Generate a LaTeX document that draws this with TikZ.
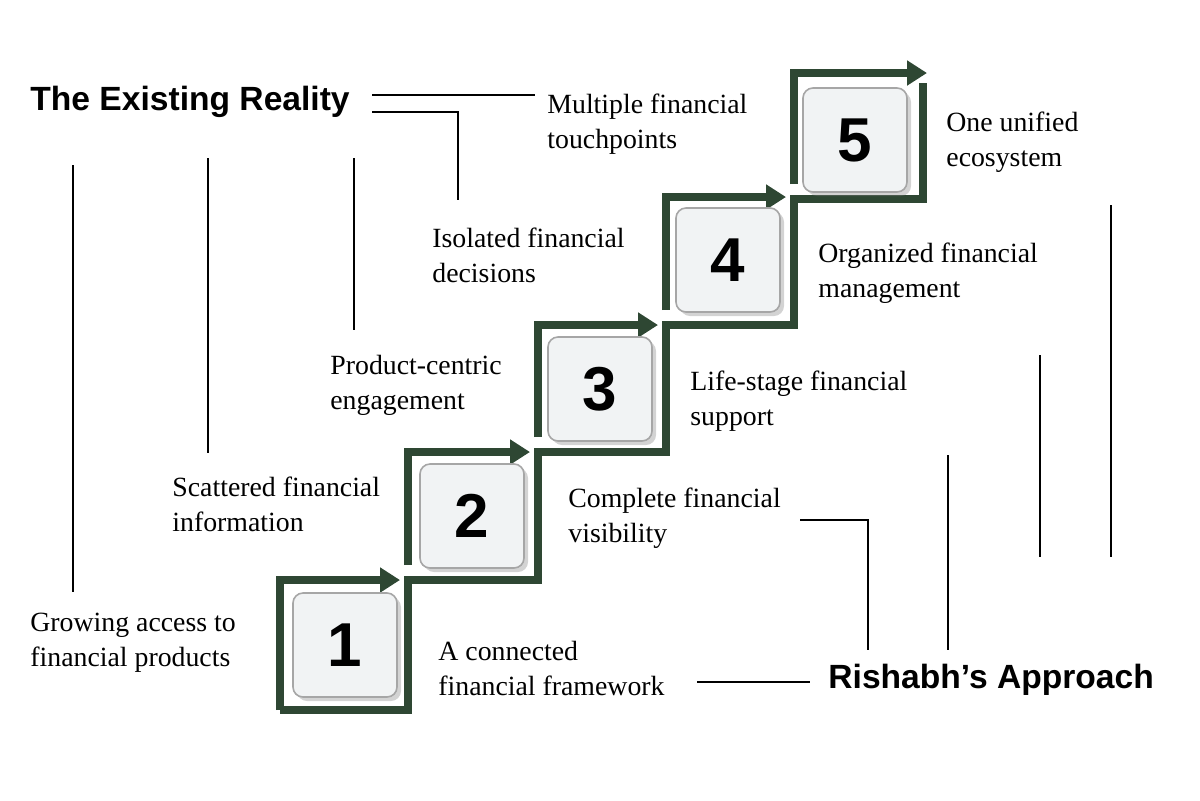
\documentclass[tikz,border=0pt]{standalone}
\usepackage{fontspec}
\setmainfont{Liberation Serif}
\setsansfont{Liberation Sans}
\usetikzlibrary{shadows,arrows.meta}
\definecolor{stairgreen}{HTML}{2E4733}
\definecolor{boxgray}{HTML}{F1F3F4}
\begin{document}
\begin{tikzpicture}
    [x=0.5pt, y=-0.5pt,
     step_style/.style={draw=stairgreen,line width=3.6pt,line join=miter},
     arrow_style/.style={step_style,-{Triangle[length=10pt,width=12pt]}},
     box_style/.style={rounded corners=5pt,draw=gray!70,line width=0.8pt,fill=boxgray,
        minimum size=52pt,inner sep=0pt,font=\sffamily\bfseries\fontsize{31}{31}\selectfont,
        drop shadow={shadow xshift=2pt,shadow yshift=-2pt,opacity=0.35}},
     text_style/.style={align=left,anchor=west,inner sep=1pt,font=\fontsize{13.9}{17.5}\selectfont},
     title_style/.style={anchor=west,inner sep=1pt,font=\sffamily\bfseries\fontsize{16.8}{18}\selectfont},
     line_style/.style={draw=black,line width=0.8pt}]
        \useasboundingbox (0,0) rectangle (1200,800);
        % staircase
        \draw[step_style] (280,710) -- (408,710) -- (408,580) -- (538,580) -- (538,452)
            -- (666,452) -- (666,325) -- (794,325) -- (794,199) -- (923,199) -- (923,83);
        \draw[arrow_style] (280,710) -- (280,580) -- (400,580);
        \draw[arrow_style] (408,565) -- (408,452) -- (530,452);
        \draw[arrow_style] (538,437) -- (538,325) -- (658,325);
        \draw[arrow_style] (666,310) -- (666,197) -- (786,197);
        \draw[arrow_style] (794,184) -- (794,73) -- (927,73);
        % boxes
        \node[box_style] (s1) at (345,645) {1};
        \node[box_style] (s2) at (472,516) {2};
        \node[box_style] (s3) at (600,389) {3};
        \node[box_style] (s4) at (728,260) {4};
        \node[box_style] (s5) at (855,140) {5};
        % titles
        \node[title_style] (reality) at (28,102) {The Existing Reality};
        \node[title_style] (approach) at (826,680) {Rishabh’s Approach};
        % existing reality
        \node[text_style] (r1) at (545,124) {Multiple financial\\touchpoints};
        \node[text_style] (r2) at (430,255) {Isolated financial\\decisions};
        \node[text_style] (r3) at (328,385) {Product-centric\\engagement};
        \node[text_style] (r4) at (170,504) {Scattered financial\\information};
        \node[text_style] (r5) at (28,643) {Growing access to\\financial products};
        % approach
        \node[text_style] (a5) at (944,142) {One unified\\ecosystem};
        \node[text_style] (a4) at (816,273) {Organized financial\\management};
        \node[text_style] (a3) at (688,401) {Life-stage financial\\support};
        \node[text_style] (a2) at (566,518) {Complete financial\\visibility};
        \node[text_style] (a1) at (436,668) {A connected\\financial framework};
        % leader lines
        \coordinate (t1) at (372,95);  \coordinate (t1e) at (535,95);
        \coordinate (t2) at (372,112); \coordinate (t2e) at (458,200);
        \coordinate (v1) at (73,165);  \coordinate (v1e) at (73,592);
        \coordinate (v2) at (208,158); \coordinate (v2e) at (208,453);
        \coordinate (v3) at (354,158); \coordinate (v3e) at (354,330);
        \coordinate (h1) at (697,682); \coordinate (h1e) at (810,682);
        \coordinate (h2) at (800,520); \coordinate (h2e) at (868,650);
        \coordinate (w1) at (948,455); \coordinate (w1e) at (948,650);
        \coordinate (w2) at (1040,355); \coordinate (w2e) at (1040,557);
        \coordinate (w3) at (1111,205); \coordinate (w3e) at (1111,557);
        \draw[line_style] (t1) -- (t1e);
        \draw[line_style] (t2) -| (t2e);
        \draw[line_style] (v1) -- (v1e);
        \draw[line_style] (v2) -- (v2e);
        \draw[line_style] (v3) -- (v3e);
        \draw[line_style] (h1) -- (h1e);
        \draw[line_style] (h2) -| (h2e);
        \draw[line_style] (w1) -- (w1e);
        \draw[line_style] (w2) -- (w2e);
        \draw[line_style] (w3) -- (w3e);
    \end{tikzpicture}
\end{document}
